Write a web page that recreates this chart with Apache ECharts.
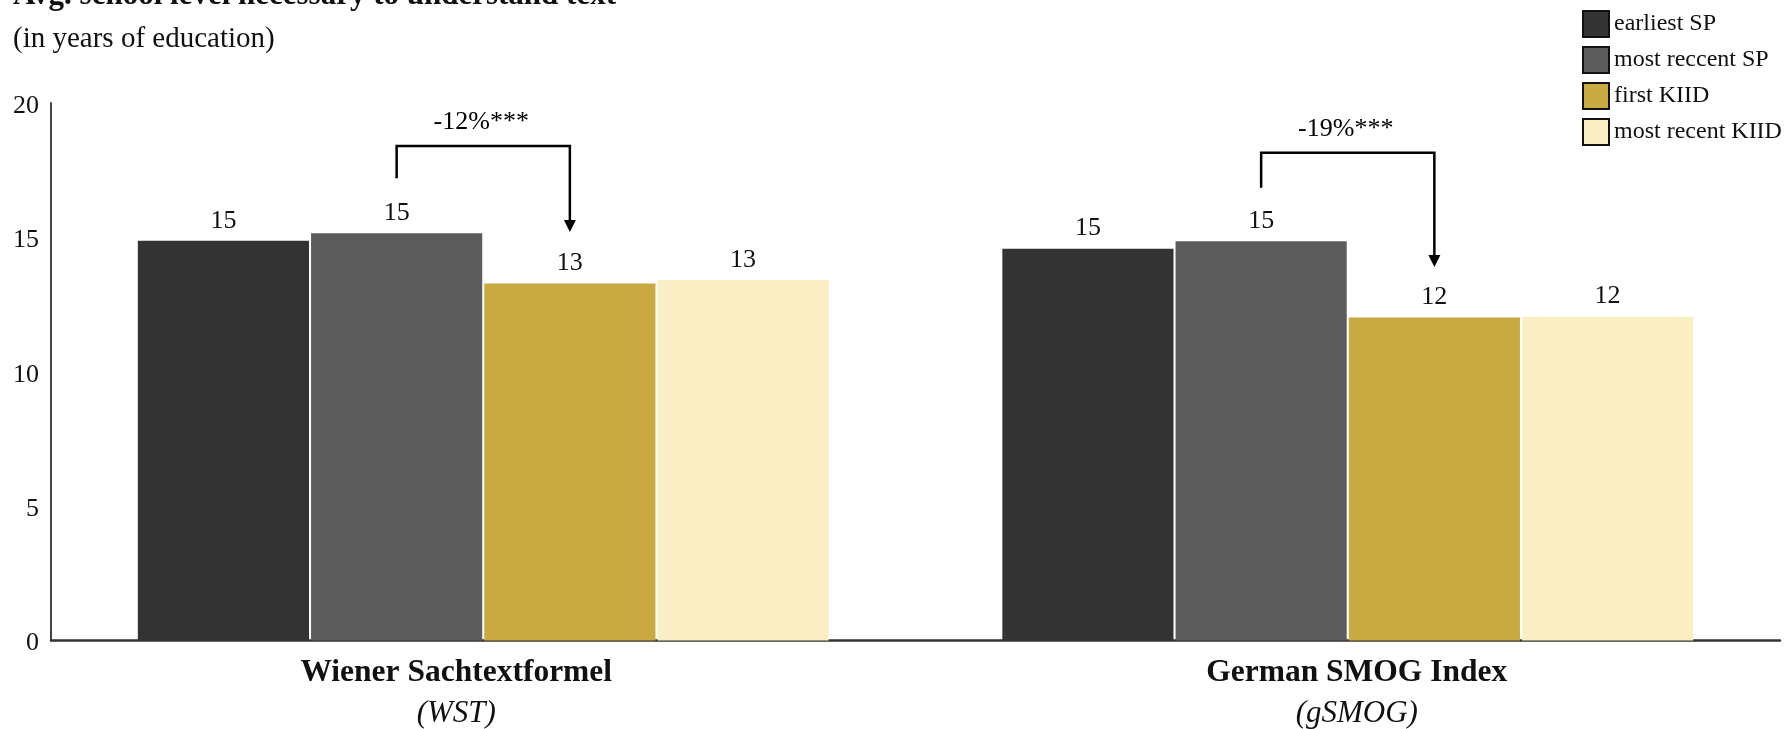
<!DOCTYPE html>
<html>
<head>
<meta charset="utf-8">
<script src="https://cdn.jsdelivr.net/npm/echarts@6/dist/echarts.min.js"></script>
<style>
  html, body { margin: 0; padding: 0; background: #fff; }
  #chart { width: 1789px; height: 729px; }
</style>
</head>
<body>
<div id="chart"></div>
<script>
// Readability scores by index, per document type
const categories = ['Wiener Sachtextformel', 'German SMOG Index'];
const abbreviations = ['WST', 'gSMOG'];
const seriesNames = ['earliest SP', 'most reccent SP', 'first KIID', 'most recent KIID'];
const earliestSP = [14.87, 14.58];
const recentSP = [15.15, 14.86];
const firstKIID = [13.28, 12.02];
const recentKIID = [13.41, 12.05];
const colors = ['#333333', '#5c5c5c', '#c8aa40', '#f9eec4'];

// y axis: 0 to 20 in steps of 5
const yMin = 0, yMax = 20, yStep = 5;

// change from most recent SP to first KIID, with bracket heights (years)
const changeLabels = ['-12%***', '-19%***'];
const bracketStart = [17.2, 16.85];
const bracketTop = [18.4, 18.15];
const arrowTip = [15.2, 13.9];

const SERIF = 'Liberation Serif';
const BAR_W = 0.198;   // bar width as fraction of the category band
const BAR_GAP = 0.012; // gap between bars as fraction of bar width

const chart = echarts.init(document.getElementById('chart'), null, { renderer: 'canvas' });

const valueSets = [earliestSP, recentSP, firstKIID, recentKIID];
const barSeries = seriesNames.map((name, i) => ({
  name,
  type: 'bar',
  data: valueSets[i],
  barWidth: (BAR_W * 100) + '%',
  barGap: (BAR_GAP * 100) + '%',
  itemStyle: { color: colors[i] },
  label: {
    show: true,
    position: 'top',
    distance: 7,
    fontFamily: SERIF,
    fontSize: 26,
    color: '#111',
    formatter: p => Math.round(p.value)
  },
  emphasis: { disabled: true }
}));

const bracketData = categories.map((c, i) => [i, bracketStart[i], bracketTop[i], arrowTip[i]]);

const bracketSeries = {
  type: 'custom',
  name: 'change',
  coordinateSystem: 'cartesian2d',
  data: bracketData,
  silent: true,
  z: 10,
  renderItem: (params, api) => {
    const idx = api.value(0);
    const band = api.size([1, 0])[0];
    const w = band * BAR_W;
    const g = w * BAR_GAP;
    const total = 4 * w + 3 * g;
    const cx = api.coord([idx, 0])[0];
    const x2 = cx - total / 2 + w / 2 + (w + g);
    const x3 = x2 + w + g;
    const yS = api.coord([idx, api.value(1)])[1];
    const yT = api.coord([idx, api.value(2)])[1];
    const yTip = api.coord([idx, api.value(3)])[1];
    const headH = 12, headW = 6;
    return {
      type: 'group',
      children: [
        {
          type: 'polyline',
          shape: { points: [[x2, yS], [x2, yT], [x3, yT], [x3, yTip - headH + 1]] },
          style: { stroke: '#000', lineWidth: 2.5, fill: null, lineJoin: 'miter' }
        },
        {
          type: 'polygon',
          shape: { points: [[x3 - headW, yTip - headH], [x3 + headW, yTip - headH], [x3, yTip]] },
          style: { fill: '#000' }
        },
        {
          type: 'text',
          style: {
            x: (x2 + x3) / 2 - 2,
            y: yT - 24,
            text: changeLabels[idx],
            font: '26px "' + SERIF + '"',
            fill: '#000',
            align: 'center',
            verticalAlign: 'middle'
          }
        }
      ]
    };
  }
};

const option = {
  animation: false,
  backgroundColor: '#fff',
  title: [
    {
      text: 'Avg. school level necessary to understand text',
      left: 8,
      top: -25,
      textStyle: { fontFamily: SERIF, fontSize: 31, fontWeight: 'bold', color: '#111' }
    },
    {
      text: '(in years of education)',
      left: 8,
      top: 20,
      textStyle: { fontFamily: SERIF, fontSize: 29, fontWeight: 'normal', color: '#111' }
    }
  ],
  legend: {
    data: seriesNames,
    orient: 'vertical',
    left: 1577,
    top: 5,
    itemWidth: 26,
    itemHeight: 26,
    itemGap: 8,
    icon: 'rect',
    itemStyle: { borderColor: '#111', borderWidth: 2 },
    textStyle: { fontFamily: SERIF, fontSize: 24, color: '#111' },
    selectedMode: false
  },
  grid: { left: 51, right: 9, top: 103, bottom: 86, containLabel: false },
  xAxis: {
    type: 'category',
    data: categories,
    axisLine: { lineStyle: { color: '#333', width: 2.5 } },
    axisTick: { show: false },
    axisLabel: {
      margin: 12,
      interval: 0,
      formatter: (v, i) => i === 0
        ? '{a0|' + v + '}\n{b0|(' + abbreviations[i] + ')}'
        : '{a1|' + v + '}\n{b1|(' + abbreviations[i] + ')}',
      rich: {
        a0: { fontFamily: SERIF, fontSize: 31.5, fontWeight: 'bold', color: '#111', lineHeight: 40, padding: [0, 54, 0, 0] },
        b0: { fontFamily: SERIF, fontSize: 31, fontStyle: 'italic', color: '#111', lineHeight: 42, padding: [0, 54, 0, 0] },
        a1: { fontFamily: SERIF, fontSize: 31.5, fontWeight: 'bold', color: '#111', lineHeight: 40, padding: [0, 0, 0, 18] },
        b1: { fontFamily: SERIF, fontSize: 31, fontStyle: 'italic', color: '#111', lineHeight: 42, padding: [0, 0, 0, 18] }
      }
    }
  },
  yAxis: {
    type: 'value',
    min: yMin,
    max: yMax,
    interval: yStep,
    axisLine: { show: true, lineStyle: { color: '#444', width: 2 } },
    axisTick: { show: false },
    splitLine: { show: false },
    axisLabel: {
      margin: 12,
      formatter: '{v|{value}}',
      rich: { v: { fontFamily: SERIF, fontSize: 26, color: '#111', padding: [6, 0, 0, 0] } }
    }
  },
  series: [...barSeries, bracketSeries]
};

chart.setOption(option);
</script>
</body>
</html>
